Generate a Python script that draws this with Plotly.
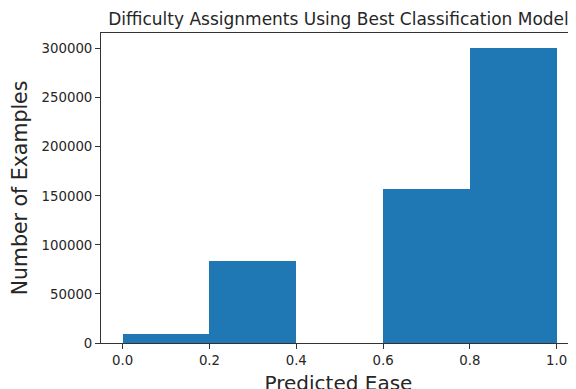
import plotly.graph_objects as go

bin_edges = [0.0, 0.2, 0.4, 0.6, 0.8, 1.0]
counts = [9000, 84000, 0, 157000, 300500]
x_ticks = [0.0, 0.2, 0.4, 0.6, 0.8, 1.0]
y_ticks = [0, 50000, 100000, 150000, 200000, 250000, 300000]

centers = [(bin_edges[i] + bin_edges[i + 1]) / 2 for i in range(len(counts))]
widths = [bin_edges[i + 1] - bin_edges[i] for i in range(len(counts))]

fig = go.Figure(go.Bar(
    x=centers, y=counts, width=widths,
    marker=dict(color="#1f77b4", line=dict(width=0)),
))

font = "DejaVu Sans"
H = 389
fig.update_layout(
    width=576, height=H,
    margin=dict(l=93, r=8, t=25, b=54),
    paper_bgcolor="white", plot_bgcolor="white",
    showlegend=False,
    font=dict(family=font, color="#262626", size=13),
    title=dict(text="Difficulty Assignments Using Best Classification Model",
               x=0.5, xref="paper", xanchor="center",
               y=1 - 11 / H, yref="container", yanchor="middle",
               font=dict(family=font, size=17, color="#262626")),
    bargap=0,
)
fig.update_xaxes(
    range=[-0.05, 1.0447], tickvals=x_ticks, tickformat=".1f",
    ticks="outside", ticklen=5, tickwidth=1, tickcolor="#333",
    showline=True, linecolor="#333", linewidth=1, mirror=True,
    showgrid=False, zeroline=False, automargin=False,
    tickfont=dict(size=13.3),
    title=dict(text="Predicted Ease", font=dict(size=20), standoff=9),
)
fig.update_yaxes(
    range=[0, 316000], tickvals=y_ticks, tickformat="d",
    ticks="outside", ticklen=5, tickwidth=1, tickcolor="#333",
    showline=True, linecolor="#333", linewidth=1, mirror=False,
    showgrid=False, zeroline=False, automargin=False,
    tickfont=dict(size=13.3),
    title=dict(text="Number of Examples", font=dict(size=20.5), standoff=13),
)

fig.write_html("out.html")
